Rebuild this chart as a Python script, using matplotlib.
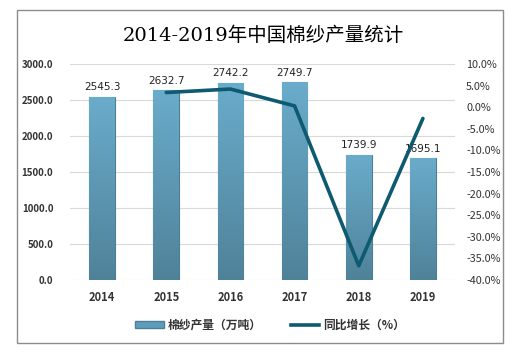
import numpy as np
import matplotlib
matplotlib.use("Agg")
import matplotlib.pyplot as plt
from matplotlib.patches import Rectangle
from matplotlib.lines import Line2D
from matplotlib.ticker import FuncFormatter

plt.rcParams['font.family'] = ['Noto Sans CJK SC', 'DejaVu Sans']

years = ['2014', '2015', '2016', '2017', '2018', '2019']
output = [2545.3, 2632.7, 2742.2, 2749.7, 1739.9, 1695.1]
growth_years = ['2015', '2016', '2017', '2018', '2019']
growth = [3.4, 4.2, 0.3, -36.7, -2.6]

fig = plt.figure(figsize=(5.27, 3.55), dpi=100)
fig.patches.append(Rectangle((17 / 527, 1 - 343 / 355), 486 / 527, 333 / 355,
                             transform=fig.transFigure, fill=False,
                             edgecolor='#8c8c8c', linewidth=1.0))

ax = fig.add_axes([70 / 527, 1 - 280 / 355, 385 / 527, 216 / 355])
x = np.arange(len(years))
bars = ax.bar(x, output, width=0.4, color='#5e9dba', edgecolor='#4a7f97',
              linewidth=0.8, zorder=2)

# vertical gradient on bars
grad = np.linspace(0, 1, 256).reshape(-1, 1)
cmap = matplotlib.colors.LinearSegmentedColormap.from_list('g', ['#4f8299', '#6aaccb'])
for b in bars:
    im = ax.imshow(grad, cmap=cmap, aspect='auto', origin='lower',
                   extent=[b.get_x(), b.get_x() + b.get_width(), 0, b.get_height()],
                   zorder=2.5)
    im.set_clip_path(b)
ax.set_xlim(-0.5, len(years) - 0.5)
ax.set_ylim(0, 3000)

for xi, v in zip(x, output):
    ax.text(xi, v + 60, f'{v:.1f}', ha='center', va='bottom', fontsize=7.5,
            color='#222222', family=['DejaVu Sans'])

ax.set_yticks(np.arange(0, 3001, 500))
ax.yaxis.set_major_formatter(FuncFormatter(lambda v, p: f'{v:.1f}'))
ax.set_xticks(x)
ax.set_xticklabels(years, fontsize=8, fontweight='bold', color='#333333')
ax.tick_params(axis='y', labelsize=7, colors='#333333', length=0, pad=12)
ax.tick_params(axis='x', length=0, pad=8)
for lab in ax.get_yticklabels():
    lab.set_fontweight('bold')
ax.grid(axis='y', color='#d9d9d9', linewidth=0.8, zorder=0)
for s in ax.spines.values():
    s.set_visible(False)

ax2 = ax.twinx()
gx = [years.index(y) for y in growth_years]
ax2.plot(gx, growth, color='#0e5a70', linewidth=2.6, zorder=5,
         solid_capstyle='round')
ax2.set_ylim(-40, 10)
ax2.set_yticks(np.arange(-40, 10.1, 5))
ax2.yaxis.set_major_formatter(FuncFormatter(lambda v, p: f'{v:.1f}%'))
ax2.tick_params(axis='y', labelsize=7.8, colors='#333333', length=0, pad=8)
for s in ax2.spines.values():
    s.set_visible(False)

fig.text(0.5, 1 - 36 / 355, '2014-2019年中国棉纱产量统计', ha='center', va='center',
         fontsize=14, family=['DejaVu Serif', 'Noto Sans CJK SC'])

handles = [Rectangle((0, 0), 1, 1, facecolor='#5e9dba', edgecolor='#4a7f97'),
           Line2D([0], [0], color='#0e5a70', linewidth=2.6)]
fig.legend(handles, ['棉纱产量（万吨）', '同比增长（%）'], loc='center',
           bbox_to_anchor=(270 / 527, 1 - 325 / 355), ncol=2, frameon=False,
           prop={'size': 8.5, 'weight': 'bold'}, handlelength=2.4,
           handleheight=0.6, columnspacing=2.5, handletextpad=0.3)
for t in fig.legends[0].get_texts():
    t.set_color('#333333')

fig.savefig('out.png', dpi=100)
